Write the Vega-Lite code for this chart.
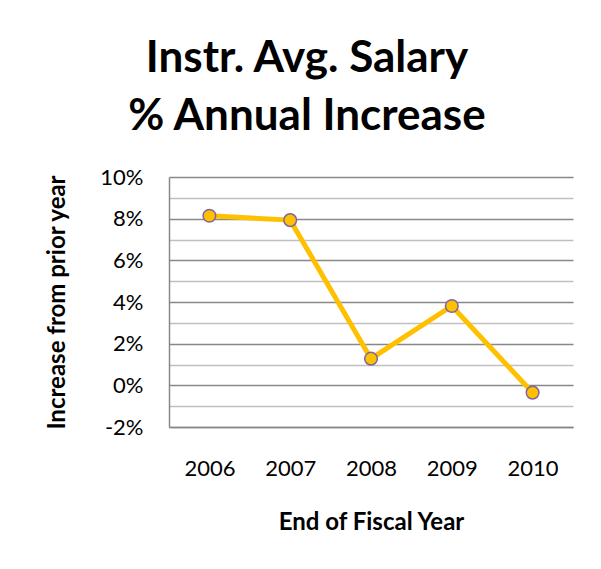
{
  "$schema": "https://vega.github.io/schema/vega-lite/v6.json",
  "autosize": "none",
  "width": 404,
  "height": 250,
  "padding": {"left": 169, "top": 177, "right": 28, "bottom": 142},
  "background": "white",
  "config": {"font": "Lato", "view": {"stroke": null}},
  "title": {
    "text": ["Instr. Avg. Salary", "% Annual Increase"],
    "fontSize": 44,
    "fontWeight": "bold",
    "font": "Lato",
    "color": "black",
    "lineHeight": 58,
    "anchor": "middle",
    "frame": "group",
    "dx": -64,
    "offset": 27
  },
  "data": {
    "values": [
      {"year": "2006", "pct": 0.0814},
      {"year": "2007", "pct": 0.0793},
      {"year": "2008", "pct": 0.0128},
      {"year": "2009", "pct": 0.0381},
      {"year": "2010", "pct": -0.0035}
    ]
  },
  "encoding": {
    "x": {
      "field": "year",
      "type": "ordinal",
      "scale": {"type": "point", "padding": 0.5},
      "axis": {
        "title": "End of Fiscal Year",
        "titleFontSize": 24,
        "titleFontWeight": "bold",
        "titleColor": "black",
        "titlePadding": 31,
        "labelAngle": 0,
        "labelFontSize": 22,
        "labelColor": "black",
        "labelPadding": 31,
        "ticks": false,
        "domainColor": "#888888",
        "domainWidth": 1.5,
        "grid": false
      }
    },
    "y": {
      "field": "pct",
      "type": "quantitative",
      "scale": {"domain": [-0.02, 0.1], "nice": false},
      "axis": {
        "title": "Increase from prior year",
        "titleFontSize": 24,
        "titleFontWeight": "bold",
        "titleColor": "black",
        "titlePadding": 30,
        "values": [-0.02, -0.01, 0, 0.01, 0.02, 0.03, 0.04, 0.05, 0.06, 0.07, 0.08, 0.09, 0.1],
        "labelExpr": "round(datum.value*100) % 2 === 0 ? replace(format(datum.value, '.0%'), '\u2212', '-') : ''",
        "labelFontSize": 22,
        "labelColor": "black",
        "labelPadding": 26,
        "ticks": false,
        "domainColor": "#888888",
        "domainWidth": 1.5,
        "grid": true,
        "gridColor": {"condition": {"test": "round(datum.value*100) % 2 === 0", "value": "#888888"}, "value": "#c0c0c0"},
        "gridWidth": 1.5
      }
    }
  },
  "layer": [
    {"mark": {"type": "line", "color": "#FFC000", "strokeWidth": 5}},
    {"mark": {"type": "point", "filled": true, "fill": "#FFC000", "stroke": "#8064A2", "strokeWidth": 1.5, "size": 160, "opacity": 1}}
  ]
}
